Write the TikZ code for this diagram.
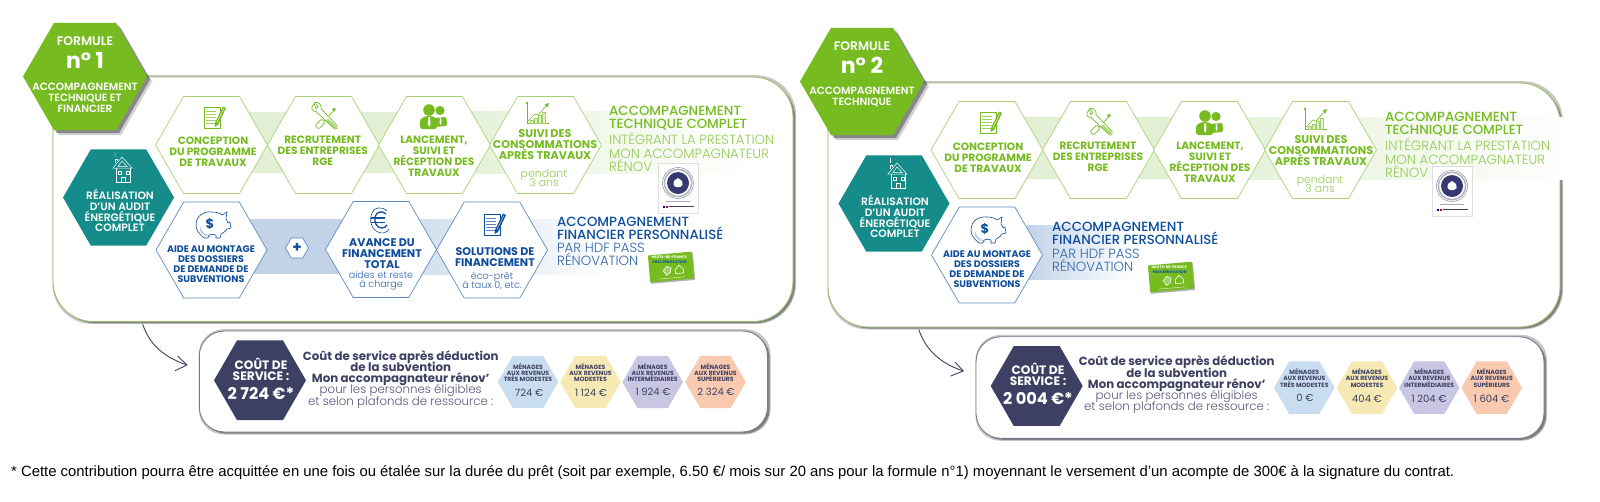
\documentclass[tikz,border=0pt]{standalone}
\usepackage{fontspec}
\usetikzlibrary{shapes.geometric,calc}
\setmainfont{Poppins}
\newfontfamily\plight{Poppins Light}
\newfontfamily\pmed{Poppins Medium}
\newfontfamily\psemi{Poppins SemiBold}
\newfontfamily\lsans{Liberation Sans}
\setlength\lineskiplimit{-30pt}
\definecolor{cgreen}{HTML}{76BC21}
\definecolor{cgreenl}{HTML}{93CB52}
\definecolor{cgborder}{HTML}{A9D374}
\definecolor{cband}{HTML}{E3F0D6}
\definecolor{cteal}{HTML}{168C8A}
\definecolor{cblue}{HTML}{0F4E9C}
\definecolor{cbluel}{HTML}{2F66AC}
\definecolor{cbborder}{HTML}{5F8BC4}
\definecolor{cbband}{HTML}{C2D3E8}
\definecolor{cnavy}{HTML}{3D4063}
\definecolor{cnavyl}{HTML}{55587A}
\definecolor{mblue}{HTML}{C8DDEF}
\definecolor{myellow}{HTML}{F6E9B4}
\definecolor{mpurple}{HTML}{C9C6E4}
\definecolor{morange}{HTML}{F9C9B0}
\definecolor{cpanel}{HTML}{9DBF70}
\tikzset{
  hexbase/.style={regular polygon,regular polygon sides=6,inner sep=0pt,outer sep=0pt},
  txt/.style={inner sep=0pt,outer sep=0pt,align=center},
  tform/.style={txt,text=white,font=\psemi\fontsize{12.4}{12}\selectfont},
  tnum/.style={txt,text=white,font=\bfseries\fontsize{22}{24}\selectfont},
  tsub/.style={txt,text=white,font=\psemi\fontsize{10.5}{11}\selectfont},
  tteal/.style={txt,text=white,font=\psemi\fontsize{10.7}{10.9}\selectfont},
  tgreen/.style={txt,text=cgreen,font=\bfseries\fontsize{10.6}{11}\selectfont},
  tgreenb/.style={txt,text=cgreen,font=\bfseries\fontsize{11.2}{11}\selectfont},
  tblue/.style={txt,text=cblue,font=\bfseries\fontsize{9.5}{10}\selectfont},
  tbluebig/.style={txt,text=cblue,font=\bfseries\fontsize{11.1}{11}\selectfont},
  tgl/.style={txt,text=cgreenl,font=\plight\fontsize{10.9}{8.6}\selectfont},
  tbl/.style={txt,text=cbluel,font=\plight\fontsize{9.6}{8.8}\selectfont},
  rgreen/.style={anchor=west,inner sep=0pt,align=left,text=cgreen,font=\pmed\fontsize{13.3}{13.3}\selectfont},
  rgreenl/.style={anchor=west,inner sep=0pt,align=left,text=cgreenl,font=\plight\fontsize{13.3}{13.3}\selectfont},
  rblue/.style={anchor=west,inner sep=0pt,align=left,text=cblue,font=\pmed\fontsize{13.3}{13.3}\selectfont},
  rbluel/.style={anchor=west,inner sep=0pt,align=left,text=cbluel,font=\plight\fontsize{13.3}{13.3}\selectfont},
  tcout/.style={txt,text=white,font=\bfseries\fontsize{12.2}{11}\selectfont},
  tprix/.style={txt,text=white,font=\bfseries\fontsize{16.2}{15}\selectfont},
  tcb/.style={txt,text=cnavy,font=\bfseries\fontsize{11.8}{11.1}\selectfont},
  tcl/.style={txt,text=cnavyl,font=\plight\fontsize{11.8}{11.1}\selectfont},
  tmen/.style={txt,text=cnavy,font=\bfseries\fontsize{6.1}{6.2}\selectfont},
  tval/.style={txt,text=cnavy,font=\fontsize{10}{10}\selectfont},
  arrowc/.style={draw=cnavy,line width=.9pt},
  icol/.style={line width=.5pt}
}
% name x y R style
\newcommand\hexn[5]{\pgfmathsetlengthmacro\hexsize{2*#4}\node[hexbase,minimum size=\hexsize,#5] (#1) at (#2,#3) {};}
\newcommand\hexshadow[3]{\pgfmathsetlengthmacro\hexsize{2*#3}%
  \node[hexbase,minimum size=\hexsize,fill=black,opacity=.18] at (#1+5,#2+5) {};
  \node[hexbase,minimum size=\hexsize,fill=black,opacity=.35] at (#1+3,#2+3) {};}
% name x0 y0 x1 y1 radius border
\newcommand\panelbox[7]{%
  \pgfmathsetlengthmacro\pw{#4-#2}\pgfmathsetlengthmacro\ph{#5-#3}%
  \pgfmathsetmacro\pcx{(#2+#4)/2}\pgfmathsetmacro\pcy{(#3+#5)/2}%
  \fill[rounded corners=#6pt,gray!45] (#2-.5,#3-1.8) rectangle (#4+3,#5+2.5);
  \fill[rounded corners=#6pt,black!50] (#2+2,#3+2) rectangle (#4+2.2,#5+1.6);
  \node[rectangle,rounded corners=#6pt,minimum width=\pw,minimum height=\ph,inner sep=0pt,outer sep=0pt,draw=#7,line width=.9pt,fill=white] (#1) at (\pcx,\pcy) {};}
% icons: x y colour
\newcommand\icondoc[3]{\begin{scope}[shift={(#1,#2)},icol]
  \draw[#3,fill=white] (-10,-10.5) rectangle (6,10.5);
  \foreach \yy in {-7,-4,-1,2,5}{\draw[#3!70] (-8,\yy) -- (2,\yy);}
  \fill[#3] (1,5) -- (9,-11.5) -- (12,-10) -- (4,7) -- (0.5,9) -- cycle;
  \draw[white,line width=.4pt] (3,4.5) -- (10,-9.5);
\end{scope}}
\newcommand\icontools[3]{\begin{scope}[shift={(#1,#2)}]
  \draw[#3,line width=.7pt,line cap=round] (-4,8) -- (9,-6);
  \fill[#3] (9,-7) circle (1.8);
  \draw[#3,fill=white,line width=.7pt,rounded corners=1pt] (-10,9) -- (-3.5,2.5) -- (0,6) -- (-6.5,12.5) -- cycle;
  \draw[#3,fill=white,line width=.7pt] (-11,-13) .. controls (-15,-8) and (-13,-5) .. (-9,-5) -- (8,11) .. controls (10,14) and (13,13) .. (12,9) -- (-4,-8) .. controls (-3,-12) and (-7,-15) .. (-10,-14) -- (-7,-10) -- (-9,-8) -- cycle;
  \fill[#3,opacity=.6] (1,4) -- (10,12) -- (11.5,10) -- (3,2) -- cycle;
\end{scope}}
\newcommand\iconpeople[3]{\begin{scope}[shift={(#1,#2)}]
  \fill[#3] (7,-5.5) circle (4.6);
  \fill[#3,rounded corners=2pt] (1,11) -- (1,2) -- (13.5,1) -- (14,10) -- cycle;
  \fill[#3] (-4,-6) circle (5.8);
  \fill[#3,rounded corners=2.5pt] (-13,13) -- (-13,3) -- (-7,0) -- (-1,0) -- (4,3) -- (4,13) -- cycle;
  \fill[white] (-4.5,1) -- (-3,1) -- (-2.5,8) -- (-3.8,11) -- (-5,8) -- cycle;
  \fill[white] (7,2) -- (8,2) -- (8.5,7) -- (7.5,9) -- (6.5,7) -- cycle;
\end{scope}}
\newcommand\iconchart[3]{\begin{scope}[shift={(#1,#2)},line width=.4pt]
  \draw[#3] (-11,-11) -- (-11,10) -- (11,10);
  \fill[#3] (-11,-12) -- (-12.3,-9) -- (-9.7,-9) -- cycle;
  \foreach \xx/\hh in {-6/3,-2/5,2/8,6/11}{\draw[#3!70,fill=#3!20] (\xx-1.6,10) rectangle (\xx+1.6,10-\hh);}
  \draw[#3,line width=.6pt] (-11,9) -- (-3,1) -- (0,2) -- (9,-8);
  \fill[#3] (11,-10) -- (6.5,-8.5) -- (9.5,-5.5) -- cycle;
\end{scope}}
\newcommand\iconhouse[3]{\begin{scope}[shift={(#1,#2)},line width=.5pt]
  \draw[#3] (-9,-1) -- (0,-12) -- (10,-1) -- cycle;
  \draw[#3] (-6,-1) -- (-6,13) -- (8,13) -- (8,-1);
  \draw[#3] (-4,-2.5) -- (0,-8) -- (5,-2.5) -- cycle;
  \draw[#3] (-4,2) rectangle (-1,5.5);
  \draw[#3] (4,2) rectangle (7,5.5);
  \draw[#3] (-1,8) rectangle (3,13);
  \draw[#3] (-7,-6) -- (-7,-10) -- (-5,-10) -- (-5,-8);
  \draw[#3,line width=.4pt] (-7,-12) .. controls (-6,-14) and (-8,-15) .. (-7,-17);
\end{scope}}
\newcommand\iconpig[3]{\begin{scope}[shift={(#1,#2)},line width=.6pt]
  \fill[#3,opacity=.25] (-13,6) .. controls (-12,10) and (-5,12) .. (-1,12) -- (-5,10) .. controls (-9,9) and (-12,5) .. (-13,1) -- cycle;
  \draw[#3] (-17,0) .. controls (-17,-10) and (-8,-14) .. (-1,-13) .. controls (3,-13) and (7,-12) .. (9,-10) -- (14,-13) -- (13,-6) .. controls (14,-5) and (15,-3) .. (15,-2) -- (17,-3) -- (18,3) -- (14,4) .. controls (12,7) and (10,8) .. (8,9) -- (7,13) -- (3,13) -- (3,10) .. controls (1,9) and (-2,9) .. (-4,10) -- (-5,13) -- (-9,13) .. controls (-14,9) and (-17,5) .. (-17,0) -- cycle;
  \node[txt,text=#3,font=\bfseries\fontsize{13}{13}\selectfont] at (-3,-1) {\$};
\end{scope}}
\newcommand\iconeuro[3]{\begin{scope}[shift={(#1,#2)},line width=.6pt]
  \draw[#3] (7,-9) .. controls (2,-14) and (-6,-13) .. (-8,-7) .. controls (-11,0) and (-9,9) .. (-2,12) .. controls (2,14) and (7,13) .. (9,9);
  \draw[#3,line width=1.3pt] (6,-6) .. controls (2,-10) and (-4,-8) .. (-5,-3) .. controls (-6,3) and (-3,8) .. (2,8) .. controls (4,8) and (6,7) .. (7,5);
  \draw[#3,line width=1.2pt] (-9,-2) -- (5,-2);
  \draw[#3,line width=1.2pt] (-9,2.5) -- (5,2.5);
\end{scope}}
% x0 y0 = top-left of medallion
\newcommand\medallion[2]{\begin{scope}[shift={(#1,#2)}]
  \draw[gray!25,fill=white,line width=.6pt] (0,0) rectangle (40,50);
  \draw[cnavy!70,line width=.4pt] (20,20) circle (15.5);
  \draw[cnavy!40,line width=1.5pt] (20,20) circle (13.6);
  \fill[cnavy!90!blue] (20,20) circle (11);
  \fill[white] (15.5,22) .. controls (15,18) and (17,16.5) .. (20,15) .. controls (23,16.5) and (25,18) .. (24.5,22) .. controls (23,25) and (17,25) .. (15.5,22) -- cycle;
  \draw[cnavy!45,line width=.4pt] (8,38) -- (32,38);
  \fill[blue!60!black] (4.5,43) rectangle (6.5,44.6);
  \fill[white] (6.5,43) rectangle (8,44.6);
  \fill[red!80!black] (8,43) rectangle (9.5,44.6);
  \draw[cnavy,line width=.8pt] (10.5,43.8) -- (36,43.8);
\end{scope}}
\newcommand\passcard[2]{\begin{scope}[shift={(#1,#2)},rotate=5]
  \fill[black!30] (-21.5,-12) rectangle (23,15);
  \fill[cgreen,rounded corners=.8pt] (-22,-13.5) rectangle (22,13.5);
  \node[txt,text=white,font=\bfseries\fontsize{3.6}{4}\selectfont] at (-1,-9.5) {HAUTS-DE-FRANCE};
  \node[txt,text=cblue,font=\bfseries\fontsize{3.6}{4}\selectfont] at (-1,-5.5) {PASS RÉNOVATION};
  \draw[white,line width=.6pt,fill=cgreen!70!white] (-8,3) -- (-4,-1) -- (0,1) -- (-1,5) -- (-5,8) -- cycle;
  \draw[white,line width=.6pt] (4,7) -- (4,3) -- (8,-1) -- (12,3) -- (12,7) -- cycle;
  \draw[white,line width=.5pt,opacity=.7] (-13,11) -- (13,11);
\end{scope}}
\begin{document}
\begin{tikzpicture}[x=1pt,y=-1pt]
\useasboundingbox[fill=white] (0,0) rectangle (1600,501);
% ---------- arrows behind panels
\coordinate (a1s) at (141,318);
\coordinate (a1e) at (187,365);
\coordinate (a1u) at (177.7,356);
\coordinate (a1d) at (175,370.7);
\coordinate (a2s) at (917,323);
\coordinate (a2e) at (963.3,371);
\coordinate (a2u) at (955,362);
\coordinate (a2d) at (950.7,376);
\draw[arrowc] (a1s) .. controls (146,340) and (160,356) .. (a1e);
\draw[arrowc,line join=round] (a1u) -- (a1e) -- (a1d);
\draw[arrowc] (a2s) .. controls (922,345) and (936,362) .. (a2e);
\draw[arrowc,line join=round] (a2u) -- (a2e) -- (a2d);
% ---------- panels
\panelbox{panelA}{53}{77}{793}{321.5}{40}{cpanel}
\panelbox{panelB}{828}{83}{1560}{327}{40}{cpanel}
\panelbox{costA}{199.3}{331}{767.5}{432}{25}{cnavy!70}
\panelbox{costB}{976}{336.7}{1544}{438.3}{25}{cnavy!70}
% ---------- bands
\fill[cband] (248,111.5) rectangle (440,173);
\fill[left color=cband,right color=white] (440,111.5) rectangle (753,173);
\fill[cbband] (250,219) rectangle (345,274);
\fill[left color=cbband,middle color=cbband!55,right color=white] (345,219) rectangle (613,274);
\fill[cband] (1022,117) rectangle (1210,179);
\fill[left color=cband,right color=white] (1210,117) rectangle (1577,179);
\fill[left color=cbband,right color=white] (1027,225) rectangle (1133,279);
% ---------- formula A
\hexshadow{85}{76.5}{62}
\hexn{fA}{85}{76.5}{62}{fill=cgreen}
\node[tform] (fAa) at (85,41) {FORMULE};
\node[tnum] (fAb) at (85,60) {n° 1};
\node[tsub] (fAc) at (85,97.5) {ACCOMPAGNEMENT\\TECHNIQUE ET\\FINANCIER};
\hexn{auA}{118.5}{197.5}{55.5}{fill=cteal}
\iconhouse{122}{169}{white}
\node[tteal] (auAt) at (120,210.5) {RÉALISATION\\D’UN AUDIT\\ÉNERGÉTIQUE\\COMPLET};
% green row A
\hexn{g1A}{211.5}{145}{56}{fill=white,draw=cgborder,line width=.7pt}
\hexn{g2A}{323.5}{145}{56}{fill=white,draw=cgborder,line width=.7pt}
\hexn{g3A}{434.5}{145}{56}{fill=white,draw=cgborder,line width=.7pt}
\hexn{g4A}{545.5}{145}{56}{fill=white,draw=cgborder,line width=.7pt}
\icondoc{214}{118}{cgreen}
\icontools{325}{116.5}{cgreen}
\iconpeople{433}{116}{cgreen}
\iconchart{538}{113}{cgreen}
\node[tgreen] (g1At) at (213,152) {CONCEPTION\\DU PROGRAMME\\DE TRAVAUX};
\node[tgreen] (g2At) at (322.7,151) {RECRUTEMENT\\DES ENTREPRISES\\RGE};
\node[tgreen] (g3At) at (434,156.5) {LANCEMENT,\\SUIVI ET\\RÉCEPTION DES\\TRAVAUX};
\node[tgreenb] (g4At) at (545,145) {SUIVI DES\\CONSOMMATIONS\\APRÈS TRAVAUX};
\node[tgl] (g4Ap) at (544,178) {pendant\\3 ans};
% blue row A
\hexn{b1A}{211.5}{250}{55.5}{fill=white,draw=cbborder,line width=.7pt}
\hexn{plusA}{297}{248}{11.5}{fill=white,draw=cbborder,line width=.7pt}
\hexn{b2A}{381}{249.5}{55.5}{fill=white,draw=cbborder,line width=.7pt}
\hexn{b3A}{492}{250}{55.5}{fill=white,draw=cbborder,line width=.7pt}
\node[txt,text=cblue,font=\bfseries\fontsize{15}{15}\selectfont] (plusAt) at (297,248) {+};
\iconpig{213}{225}{cblue}
\iconeuro{380}{220}{cblue}
\icondoc{494}{225}{cblue}
\node[tblue] (b1At) at (211,264) {AIDE AU MONTAGE\\DES DOSSIERS\\DE DEMANDE DE\\SUBVENTIONS};
\node[tbluebig] (b2At) at (382,254) {AVANCE DU\\FINANCEMENT\\TOTAL};
\node[tbl] (b2Ap) at (381,280.5) {aides et reste\\à charge};
\node[tbluebig] (b3At) at (495,257.5) {SOLUTIONS DE\\FINANCEMENT};
\node[tbl] (b3Ap) at (492,281) {éco-prêt\\à taux 0, etc.};
% right texts A
\node[rgreen] (rA1) at (609,118.5) {ACCOMPAGNEMENT\\TECHNIQUE COMPLET};
\node[rgreenl] (rA2) at (609,152) {INTÉGRANT LA PRESTATION\\MON ACCOMPAGNATEUR\\RÉNOV};
\medallion{658}{163}
\node[rblue] (rA3) at (557,228.5) {ACCOMPAGNEMENT\\FINANCIER PERSONNALISÉ};
\node[rbluel] (rA4) at (557,254.5) {PAR HDF PASS\\RÉNOVATION};
\passcard{671}{267}
% ---------- formula B
\hexshadow{862}{81.5}{62}
\hexn{fB}{862}{81.5}{62}{fill=cgreen}
\node[tform] (fBa) at (862,46) {FORMULE};
\node[tnum] (fBb) at (862,65) {n° 2};
\node[tsub] (fBc) at (862,96.5) {ACCOMPAGNEMENT\\TECHNIQUE};
\hexn{auB}{894}{203.5}{55.5}{fill=cteal}
\iconhouse{897}{175}{white}
\node[tteal] (auBt) at (895,216.5) {RÉALISATION\\D’UN AUDIT\\ÉNERGÉTIQUE\\COMPLET};
\hexn{g1B}{987}{150}{56}{fill=white,draw=cgborder,line width=.7pt}
\hexn{g2B}{1098.5}{150}{56}{fill=white,draw=cgborder,line width=.7pt}
\hexn{g3B}{1209.5}{150}{56}{fill=white,draw=cgborder,line width=.7pt}
\hexn{g4B}{1320.5}{150}{56}{fill=white,draw=cgborder,line width=.7pt}
\icondoc{990}{123}{cgreen}
\icontools{1100}{122.5}{cgreen}
\iconpeople{1209}{122}{cgreen}
\iconchart{1316}{119}{cgreen}
\node[tgreen] (g1Bt) at (988,157.5) {CONCEPTION\\DU PROGRAMME\\DE TRAVAUX};
\node[tgreen] (g2Bt) at (1098,157) {RECRUTEMENT\\DES ENTREPRISES\\RGE};
\node[tgreen] (g3Bt) at (1210,162) {LANCEMENT,\\SUIVI ET\\RÉCEPTION DES\\TRAVAUX};
\node[tgreenb] (g4Bt) at (1321,151) {SUIVI DES\\CONSOMMATIONS\\APRÈS TRAVAUX};
\node[tgl] (g4Bp) at (1320,184) {pendant\\3 ans};
\hexn{b1B}{987}{255}{55.5}{fill=white,draw=cbborder,line width=.7pt}
\iconpig{988}{230}{cblue}
\node[tblue] (b1Bt) at (987,269) {AIDE AU MONTAGE\\DES DOSSIERS\\DE DEMANDE DE\\SUBVENTIONS};
\node[rgreen] (rB1) at (1385,124.5) {ACCOMPAGNEMENT\\TECHNIQUE COMPLET};
\node[rgreenl] (rB2) at (1385,158) {INTÉGRANT LA PRESTATION\\MON ACCOMPAGNATEUR\\RÉNOV};
\medallion{1432}{166}
\node[rblue] (rB3) at (1052,233.5) {ACCOMPAGNEMENT\\FINANCIER PERSONNALISÉ};
\node[rbluel] (rB4) at (1052,260.5) {PAR HDF PASS\\RÉNOVATION};
\passcard{1171}{277}
% ---------- cost A
\hexn{cA}{260}{380.3}{46}{fill=cnavy}
\node[tcout] (cAt) at (261,369.5) {COÛT DE\\SERVICE :};
\node[tprix] (cAp) at (261,393) {2 724 €*};
\node[tcb] (cAb) at (400.7,368) {Coût de service après déduction\\de la subvention\\Mon accompagnateur rénov’};
\node[tcl] (cAl) at (400.7,396.5) {pour les personnes éligibles\\et selon plafonds de ressource :};
\hexn{m1A}{528}{382}{30.3}{fill=mblue}
\hexn{m2A}{590.5}{382}{30.3}{fill=myellow}
\hexn{m3A}{652.7}{382}{30.3}{fill=mpurple}
\hexn{m4A}{715.5}{382}{30.3}{fill=morange}
\node[tmen] (m1At) at (528,372.5) {MÉNAGES\\AUX REVENUS\\TRÈS MODESTES};
\node[tmen] (m2At) at (590.5,372.5) {MÉNAGES\\AUX REVENUS\\MODESTES};
\node[tmen] (m3At) at (652.7,372.5) {MÉNAGES\\AUX REVENUS\\INTERMÉDIAIRES};
\node[tmen] (m4At) at (715.5,372.5) {MÉNAGES\\AUX REVENUS\\SUPÉRIEURS};
\node[tval] (m1Av) at (529,393) {724 €};
\node[tval] (m2Av) at (591,393) {1 124 €};
\node[tval] (m3Av) at (653,392) {1 924 €};
\node[tval] (m4Av) at (716,392) {2 324 €};
% ---------- cost B
\hexn{cB}{1036.7}{386}{46}{fill=cnavy}
\node[tcout] (cBt) at (1038,374.5) {COÛT DE\\SERVICE :};
\node[tprix] (cBp) at (1038,398) {2 004 €*};
\node[tcb] (cBb) at (1176.7,373.7) {Coût de service après déduction\\de la subvention\\Mon accompagnateur rénov’};
\node[tcl] (cBl) at (1176.7,402) {pour les personnes éligibles\\et selon plafonds de ressource :};
\hexn{m1B}{1304.3}{387.7}{30.3}{fill=mblue}
\hexn{m2B}{1367}{387.7}{30.3}{fill=myellow}
\hexn{m3B}{1429.3}{387.7}{30.3}{fill=mpurple}
\hexn{m4B}{1491.7}{387.7}{30.3}{fill=morange}
\node[tmen] (m1Bt) at (1304.3,378) {MÉNAGES\\AUX REVENUS\\TRÈS MODESTES};
\node[tmen] (m2Bt) at (1367,378) {MÉNAGES\\AUX REVENUS\\MODESTES};
\node[tmen] (m3Bt) at (1429.3,378) {MÉNAGES\\AUX REVENUS\\INTERMÉDIAIRES};
\node[tmen] (m4Bt) at (1491.7,378) {MÉNAGES\\AUX REVENUS\\SUPÉRIEURS};
\node[tval] (m1Bv) at (1305,398) {0 €};
\node[tval] (m2Bv) at (1367,399) {404 €};
\node[tval] (m3Bv) at (1429,399) {1 204 €};
\node[tval] (m4Bv) at (1491.5,399) {1 604 €};
% ---------- footnote
\node[anchor=base west,inner sep=0pt,font=\lsans\fontsize{14.85}{15}\selectfont,text=black] (foot) at (11,476) {* Cette contribution pourra être acquittée en une fois ou étalée sur la durée du prêt (soit par exemple, 6.50 €/ mois sur 20 ans pour la formule n°1) moyennant le versement d’un acompte de 300€ à la signature du contrat.};
\end{tikzpicture}
\end{document}
